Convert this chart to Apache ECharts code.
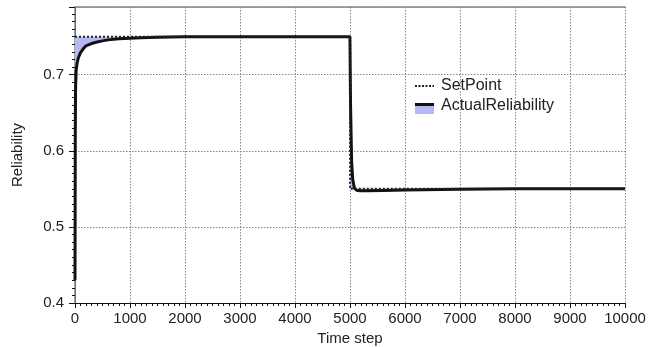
<!DOCTYPE html>
<html>
<head>
<meta charset="utf-8">
<script src="https://cdn.jsdelivr.net/npm/echarts@6/dist/echarts.min.js"></script>
<style>
html,body{margin:0;padding:0;background:#fff;}
#chart{width:657px;height:347px;}
</style>
</head>
<body>
<div id="chart"></div>
<script>
// ---- data ----
var setTimes = [0, 5000, 5000, 10000];
var setValues = [0.75, 0.75, 0.55, 0.55];

var actTimes = [0, 5, 10, 20, 40, 60, 100, 150, 200, 300, 400, 500, 600, 800, 1000, 1200, 1500, 2000, 3000, 4000, 4999,
                5000, 5010, 5030, 5050, 5080, 5120, 5180, 5300, 5600, 6000, 7000, 8000, 9000, 10000];
var actValues = [0.43, 0.62, 0.68, 0.705, 0.716, 0.722, 0.729, 0.734, 0.738, 0.741, 0.743, 0.7445, 0.7458, 0.7472, 0.748, 0.7487, 0.7493, 0.7498, 0.75, 0.75, 0.75,
                 0.75, 0.66, 0.585, 0.562, 0.551, 0.5482, 0.5476, 0.5474, 0.548, 0.5485, 0.5495, 0.55, 0.55, 0.55];

var xTicks = [0, 1000, 2000, 3000, 4000, 5000, 6000, 7000, 8000, 9000, 10000];
var yTickLabels = [0.4, 0.5, 0.6, 0.7];

var setData = setTimes.map(function (t, i) { return [t, setValues[i]]; });
var actData = actTimes.map(function (t, i) { return [t, actValues[i]]; });

var FONT = 'Liberation Sans, Arial, Helvetica, sans-serif';
var chart = echarts.init(document.getElementById('chart'), null, {renderer: 'canvas'});

function renderBand(params, api) {
  var pts = [];
  for (var i = 0; i < actData.length; i++) pts.push(api.coord(actData[i]));
  for (var j = setData.length - 1; j >= 0; j--) pts.push(api.coord(setData[j]));
  return {type: 'polygon', shape: {points: pts}, style: {fill: '#b5b9f1', stroke: null}, silent: true};
}

chart.setOption({
  animation: false,
  grid: {left: 75, right: 32, top: 7, bottom: 44, containLabel: false, outerBoundsMode: 'none'},
  xAxis: [{
    type: 'value', min: 0, max: 10000, interval: 1000,
    name: 'Time step', nameLocation: 'middle', nameGap: 28,
    nameTextStyle: {fontFamily: FONT, fontSize: 15, color: '#222'},
    axisLine: {show: true, onZero: false, lineStyle: {color: '#111', width: 1}},
    axisTick: {show: true, inside: false, length: 5, lineStyle: {color: '#111'}},
    minorTick: {show: true, splitNumber: 10, length: 3, lineStyle: {color: '#111'}},
    axisLabel: {fontFamily: FONT, fontSize: 15, color: '#222', margin: 8, formatter: function (v) { return String(v); }},
    splitLine: {show: true, lineStyle: {type: [1.5, 1.5], color: '#888', width: 1}}
  }, {
    type: 'value', position: 'top', min: 0, max: 10000,
    axisLine: {show: true, lineStyle: {color: '#888', width: 1.5}},
    axisTick: {show: false}, axisLabel: {show: false}, splitLine: {show: false}
  }],
  yAxis: [{
    type: 'value', min: 0.4, max: 0.789, interval: 0.1,
    name: 'Reliability', nameLocation: 'middle', nameGap: 50, nameRotate: 90,
    nameTextStyle: {fontFamily: FONT, fontSize: 15, color: '#222'},
    axisLine: {show: true, lineStyle: {color: '#111', width: 1}},
    axisTick: {show: true, inside: false, length: 6, lineStyle: {color: '#111'}},
    minorTick: {show: true, splitNumber: 10, length: 3, lineStyle: {color: '#111'}},
    axisLabel: {fontFamily: FONT, fontSize: 15, color: '#222', margin: 11, showMaxLabel: false,
      formatter: function (v) {
        for (var k = 0; k < yTickLabels.length; k++) if (Math.abs(v - yTickLabels[k]) < 1e-6) return yTickLabels[k].toFixed(1);
        return '';
      }},
    splitLine: {show: true, lineStyle: {type: [1.5, 1.5], color: '#888', width: 1}}
  }, {
    type: 'value', position: 'right', min: 0.4, max: 0.789,
    axisLine: {show: true, lineStyle: {color: '#888', width: 1.5}},
    axisTick: {show: false}, axisLabel: {show: false}, splitLine: {show: false}
  }],
  series: [
    {
      name: 'band', type: 'custom', coordinateSystem: 'cartesian2d', data: [[0, 0.75]],
      renderItem: renderBand, silent: true, z: 1
    },
    {
      name: 'ActualReliability', type: 'line', data: actData, symbol: 'none',
      lineStyle: {color: '#111', width: 3}, z: 3
    },
    {
      name: 'SetPoint', type: 'line', data: setData, symbol: 'none',
      lineStyle: {color: '#222', width: 2, type: [2, 2]}, z: 4
    }
  ],
  graphic: [
    {type: 'line', z: 100, shape: {x1: 415, y1: 86, x2: 434, y2: 86}, style: {stroke: '#222', lineWidth: 2, lineDash: [2, 1.5]}},
    {type: 'text', z: 100, style: {x: 441, y: 86, text: 'SetPoint', font: '16px ' + FONT, fill: '#222', verticalAlign: 'middle'}},
    {type: 'rect', z: 100, shape: {x: 415, y: 105, width: 19, height: 9}, style: {fill: '#b5b9f1'}},
    {type: 'line', z: 100, shape: {x1: 415, y1: 104.5, x2: 434, y2: 104.5}, style: {stroke: '#111', lineWidth: 3}},
    {type: 'text', z: 100, style: {x: 441, y: 106, text: 'ActualReliability', font: '16px ' + FONT, fill: '#222', verticalAlign: 'middle'}}
  ]
});
</script>
</body>
</html>
